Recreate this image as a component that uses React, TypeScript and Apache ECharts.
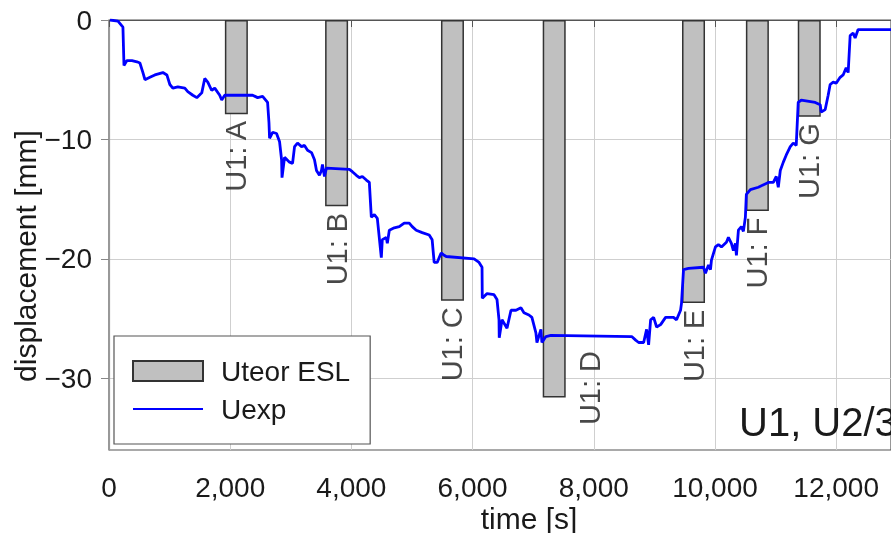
import React, { useEffect, useRef } from 'react';
import * as echarts from 'echarts';

const FONT = '"Liberation Sans", Arial, sans-serif';

// Experimental displacement Uexp: [time s, displacement mm]
const uexp: [number, number][] = [
  [16, 0], [148, -0.1], [230, -0.6], [247, -3.8], [296, -3.4], [379, -3.4], [461, -3.5], [510, -3.6],
  [560, -4.4], [593, -5.0], [675, -4.8], [757, -4.6], [889, -4.4], [955, -4.6], [1004, -5.4], [1053, -5.7],
  [1136, -5.6], [1251, -5.7], [1300, -6.0], [1383, -6.3], [1449, -6.5], [1531, -6.1], [1580, -4.9], [1630, -5.2],
  [1695, -5.9], [1745, -5.7], [1827, -6.3], [1860, -6.7], [1910, -6.3], [2288, -6.3], [2370, -6.3], [2453, -6.5],
  [2535, -6.4], [2617, -6.9], [2640, -8.6], [2650, -9.9], [2700, -9.4], [2765, -9.5], [2815, -10.2], [2848, -11.7],
  [2855, -13.2], [2897, -11.5], [2979, -11.9], [3029, -12.0], [3062, -10.6], [3111, -10.3], [3177, -10.6], [3226, -10.5],
  [3276, -10.9], [3342, -11.1], [3391, -11.7], [3424, -12.6], [3473, -13.0], [3506, -12.6], [3523, -12.1], [3556, -13.1],
  [3588, -12.4], [3967, -12.5], [4016, -12.7], [4082, -13.0], [4132, -13.2], [4181, -13.1], [4247, -13.4], [4296, -13.6],
  [4329, -16.5], [4379, -16.3], [4428, -16.6], [4494, -19.9], [4510, -18.4], [4576, -18.2], [4593, -18.7], [4626, -17.6],
  [4708, -17.4], [4790, -17.3], [4872, -17.0], [4955, -17.0], [5004, -17.3], [5070, -17.6], [5169, -17.8], [5284, -18.0],
  [5333, -18.4], [5366, -20.3], [5416, -20.3], [5481, -19.5], [5531, -19.7], [5564, -19.8], [6025, -20.0], [6107, -20.3],
  [6156, -20.7], [6160, -23.3], [6239, -22.9], [6354, -23.0], [6403, -23.4], [6436, -25.1], [6440, -26.6], [6486, -25.1],
  [6568, -25.8], [6634, -24.3], [6716, -24.3], [6798, -24.1], [6848, -24.5], [6930, -24.7], [6979, -24.9], [7045, -26.2],
  [7062, -27.0], [7128, -25.9], [7144, -27.0], [7210, -26.5], [7292, -26.4], [8626, -26.5], [8691, -26.8], [8741, -27.0],
  [8823, -27.0], [8872, -25.9], [8905, -27.2], [8938, -25.1], [8988, -24.9], [9037, -25.7], [9103, -25.5], [9185, -24.9],
  [9268, -24.9], [9317, -24.9], [9366, -25.1], [9432, -24.3], [9448, -23.7], [9481, -20.9], [9564, -20.8], [9810, -20.7],
  [9843, -21.2], [9893, -20.5], [9926, -20.9], [9942, -20.1], [10008, -19.0], [10057, -18.8], [10107, -19.0], [10189, -18.6],
  [10222, -18.2], [10271, -18.7], [10304, -19.3], [10337, -18.7], [10354, -19.7], [10387, -17.6], [10436, -17.3], [10469, -17.7],
  [10502, -16.5], [10518, -14.6], [10584, -14.2], [10716, -14.0], [10881, -13.6], [10963, -13.6], [11012, -13.1], [11045, -14.0],
  [11078, -12.6], [11128, -11.9], [11177, -11.3], [11243, -10.6], [11292, -10.3], [11341, -10.5], [11374, -6.9], [11424, -6.7],
  [11654, -6.9], [11737, -7.1], [11753, -7.7], [11819, -7.5], [11868, -6.3], [11901, -5.4], [11951, -5.2], [12000, -5.3],
  [12066, -4.8], [12115, -4.6], [12165, -4.0], [12198, -4.4], [12231, -1.3], [12280, -1.1], [12313, -1.5], [12362, -0.8],
  [12905, -0.8],
];

// Theoretical displacement Uteor ESL per load step
const barNames = ['U1: A', 'U1: B', 'U1: C', 'U1: D', 'U1: E', 'U1: F', 'U1: G'];
const barTimes = [2102, 3756, 5668, 7347, 9646, 10700, 11556];
const barValues = [-7.9, -15.6, -23.5, -31.6, -23.7, -16.0, -8.1];

const xTicks = [0, 2000, 4000, 6000, 8000, 10000, 12000];
const yTicks = [-30, -20, -10, 0];

export default function App() {
  const ref = useRef<HTMLDivElement>(null);
  useEffect(() => {
    const chart = echarts.init(ref.current!, null, { renderer: 'svg' });
    const barData = barTimes.map((t, i) => ({ name: barNames[i], value: [t, barValues[i]] }));
    const labelData = barTimes.map((t, i) => {
      const item: any = { name: barNames[i], value: [t, barValues[i]] };
      if (barNames[i] === 'U1: D') {
        // label sits to the right of the deepest bar, as in the original
        item.label = { position: [36, -46] };
      }
      return item;
    });
    chart.setOption({
      animation: false,
      textStyle: { fontFamily: FONT },
      grid: {
        left: 109, right: -2, top: 20, bottom: 83,
        show: true, borderColor: '#555', borderWidth: 1.2,
      },
      xAxis: {
        type: 'value', min: 0, max: 12905,
        axisLine: { show: true, lineStyle: { color: '#555', width: 1.2 } },
        axisTick: { show: true, length: 7, lineStyle: { color: '#555' }, customValues: xTicks },
        axisLabel: {
          customValues: xTicks, margin: 23, fontSize: 28, color: '#1a1a1a', fontFamily: FONT,
          formatter: (v: number) => v.toLocaleString('en-US'),
        },
        splitLine: { show: true, lineStyle: { color: '#cfcfcf', width: 1 } },
      },
      yAxis: {
        type: 'value', min: -36, max: 0,
        axisLine: { show: true, lineStyle: { color: '#999', width: 1.2 } },
        axisTick: { show: true, length: 8, lineStyle: { color: '#888' }, customValues: yTicks },
        axisLabel: {
          customValues: yTicks, margin: 17, fontSize: 28, color: '#1a1a1a', fontFamily: FONT,
          formatter: (v: number) => String(v).replace('-', '\u2212'),
        },
        splitLine: { show: true, lineStyle: { color: '#cfcfcf', width: 1 } },
      },
      legend: {
        left: 114, top: 336, orient: 'vertical',
        data: [
          { name: 'Uteor ESL', icon: 'rect' },
          { name: 'Uexp', itemStyle: { opacity: 0 } },
        ],
        backgroundColor: '#fff',
        borderColor: '#555', borderWidth: 1.2, borderRadius: 0,
        padding: [17, 20, 17, 18],
        itemWidth: 70, itemHeight: 20, itemGap: 2,
        textStyle: { fontSize: 28, color: '#1a1a1a', fontFamily: FONT, padding: [0, 0, 0, 13], lineHeight: 36 },
      },
      graphic: [
        {
          type: 'text', left: 739, top: 402, z: 100,
          style: { text: 'U1, U2/3', fontSize: 40, fill: '#1a1a1a', fontFamily: FONT },
        },
        {
          type: 'text', x: 529, y: 518,
          style: { text: 'time [s]', fontSize: 30, fill: '#1a1a1a', fontFamily: FONT, align: 'center', verticalAlign: 'middle' },
        },
        {
          type: 'text', x: 25, y: 256, rotation: Math.PI / 2,
          style: { text: 'displacement [mm]', fontSize: 30, fill: '#1a1a1a', fontFamily: FONT, align: 'center', verticalAlign: 'middle' },
        },
      ],
      series: [
        {
          name: 'Uteor ESL', type: 'bar', data: barData, barWidth: 23, z: 2,
          itemStyle: { color: '#c0c0c0', borderColor: '#333', borderWidth: 1.5 },
        },
        {
          name: 'Uexp', type: 'line', data: uexp, showSymbol: false, symbol: 'none', z: 5,
          lineStyle: { color: '#0000ff', width: 2.8 }, itemStyle: { color: '#0000ff' },
        },
        {
          name: 'labels', type: 'scatter', data: labelData, symbolSize: 1, z: 6,
          itemStyle: { color: 'rgba(0,0,0,0)' },
          label: {
            show: true, position: 'bottom', distance: 6, rotate: 90,
            align: 'right', verticalAlign: 'middle',
            fontSize: 29, color: '#1a1a1a', fontFamily: FONT,
            formatter: (p: any) => p.name,
          },
        },
      ],
    });
    return () => chart.dispose();
  }, []);
  return <div ref={ref} style={{ position: 'fixed', left: 0, top: 0, width: 891, height: 533 }} />;
}
